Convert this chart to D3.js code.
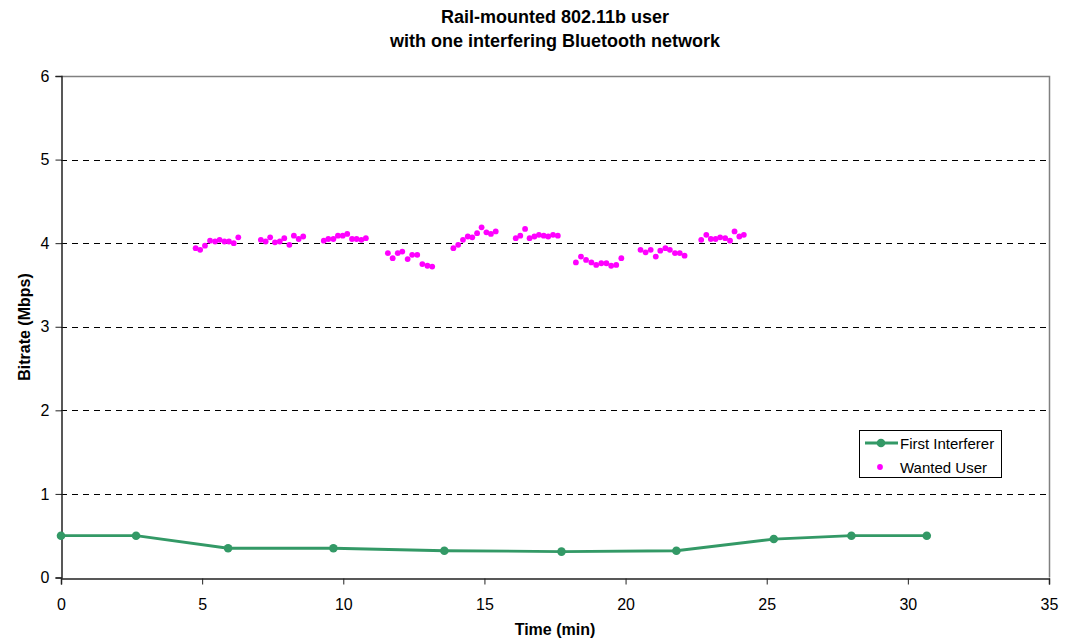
<!DOCTYPE html>
<html lang="en">
	<head>
		<meta charset="utf-8">
		<title>Rail-mounted 802.11b user</title>
		<script src="https://cdn.jsdelivr.net/npm/d3@7"></script>
		<style>
			body { margin: 0; background: #fff; }
			svg { font-family: "Liberation Sans", Arial, sans-serif; }
			.title { font-size: 18px; font-weight: bold; text-anchor: middle; }
			.axis-title { font-size: 16px; font-weight: bold; text-anchor: middle; }
			.legend text { font-size: 15px; }
		</style>
	</head>
	<body>
		<script>
			var w = 1066, h = 639;
			var margin = {top: 76, right: 17, bottom: 61, left: 61};

			var xTicks = [0, 5, 10, 15, 20, 25, 30, 35];
			var yTicks = [0, 1, 2, 3, 4, 5, 6];

			// First Interferer (minutes, Mbps)
			var interfTime = [0, 2.66, 5.92, 9.65, 13.58, 17.73, 21.8, 25.25, 28.0, 30.67];
			var interfRate = [0.5, 0.5, 0.35, 0.35, 0.32, 0.31, 0.32, 0.46, 0.5, 0.5];

			// Wanted User (minutes, Mbps)
			var userTime = [
				4.77, 4.93, 5.10, 5.28, 5.46, 5.62, 5.79, 5.95, 6.12, 6.28,
				7.08, 7.25, 7.41, 7.58, 7.75, 7.91, 8.09, 8.25, 8.42, 8.58,
				9.31, 9.47, 9.65, 9.81, 9.98, 10.14, 10.31, 10.47, 10.64, 10.80,
				11.58, 11.75, 11.93, 12.09, 12.28, 12.44, 12.62, 12.80, 12.98, 13.15,
				13.90, 14.07, 14.24, 14.41, 14.57, 14.74, 14.90, 15.07, 15.23, 15.40,
				16.11, 16.27, 16.44, 16.60, 16.77, 16.93, 17.10, 17.26, 17.43, 17.60,
				18.24, 18.42, 18.60, 18.79, 18.96, 19.14, 19.32, 19.49, 19.67, 19.85,
				20.53, 20.71, 20.89, 21.07, 21.23, 21.41, 21.57, 21.75, 21.92, 22.09,
				22.68, 22.86, 23.02, 23.19, 23.35, 23.53, 23.70, 23.86, 24.03, 24.19
			];
			var userRate = [
				3.94, 3.92, 3.97, 4.03, 4.02, 4.04, 4.02, 4.02, 4.00, 4.07,
				4.04, 4.02, 4.07, 4.01, 4.02, 4.06, 3.98, 4.09, 4.05, 4.08,
				4.03, 4.05, 4.05, 4.09, 4.09, 4.11, 4.05, 4.05, 4.04, 4.06,
				3.88, 3.82, 3.88, 3.90, 3.81, 3.86, 3.86, 3.75, 3.73, 3.72,
				3.94, 3.98, 4.04, 4.08, 4.07, 4.12, 4.19, 4.13, 4.11, 4.14,
				4.06, 4.09, 4.17, 4.06, 4.08, 4.10, 4.09, 4.08, 4.10, 4.09,
				3.77, 3.84, 3.80, 3.77, 3.74, 3.76, 3.76, 3.73, 3.74, 3.82,
				3.92, 3.89, 3.92, 3.84, 3.91, 3.94, 3.92, 3.88, 3.88, 3.85,
				4.04, 4.10, 4.05, 4.05, 4.07, 4.06, 4.03, 4.14, 4.08, 4.10
			];

			var green = "#339966", magenta = "#ff00ff";

			var svg = d3.select("body").append("svg")
				.attr("width", w)
				.attr("height", h);

			var x = d3.scaleLinear().domain([0, 35]).range([margin.left, w - margin.right]);
			var y = d3.scaleLinear().domain([0, 6]).range([h - margin.bottom - 0.5, margin.top]);

			// gridlines
			svg.append("g").selectAll("line")
				.data(yTicks.filter(function(d) { return d > 0 && d < 6; }))
				.enter().append("line")
				.attr("x1", x(0)).attr("x2", x(35))
				.attr("y1", function(d) { return Math.round(y(d)) + 0.5; })
				.attr("y2", function(d) { return Math.round(y(d)) + 0.5; })
				.attr("stroke", "#000")
				.attr("stroke-dasharray", "6,5");

			// plot area border (top and right)
			svg.append("path")
				.attr("d", "M" + x(0) + "," + (y(6) + 0.5) + "H" + (x(35) + 0.5) + "V" + y(0))
				.attr("fill", "none")
				.attr("stroke", "#808080")
				.attr("stroke-width", 1.5);

			// axes
			var xAxis = svg.append("g")
				.attr("transform", "translate(0," + (Math.round(y(0)) + 0.5) + ")")
				.call(d3.axisBottom(x).tickValues(xTicks).tickFormat(d3.format("d"))
					.tickSizeOuter(0).tickSize(6).tickPadding(14));
			var yAxis = svg.append("g")
				.attr("transform", "translate(" + (x(0) + 0.5) + ",0)")
				.call(d3.axisLeft(y).tickValues(yTicks).tickFormat(d3.format("d"))
					.tickSizeOuter(0).tickSize(6).tickPadding(6));
			[xAxis, yAxis].forEach(function(a) {
				a.attr("font-size", 16).attr("font-family", "Liberation Sans, Arial, sans-serif");
				a.select(".domain").attr("stroke", "#222").attr("stroke-width", 1.5);
				a.selectAll(".tick line").attr("stroke", "#222");
			});

			// first interferer line
			var interf = interfTime.map(function(t, i) { return [t, interfRate[i]]; });
			svg.append("path")
				.datum(interf)
				.attr("fill", "none")
				.attr("stroke", green)
				.attr("stroke-width", 2.8)
				.attr("d", d3.line().x(function(d) { return x(d[0]); }).y(function(d) { return y(d[1]); }));
			svg.append("g").selectAll("circle")
				.data(interf)
				.enter().append("circle")
				.attr("cx", function(d) { return x(d[0]); })
				.attr("cy", function(d) { return y(d[1]); })
				.attr("r", 4.3)
				.attr("fill", green);

			// wanted user points
			svg.append("g").selectAll("circle")
				.data(userTime.map(function(t, i) { return [t, userRate[i]]; }))
				.enter().append("circle")
				.attr("cx", function(d) { return x(d[0]); })
				.attr("cy", function(d) { return y(d[1]); })
				.attr("r", 2.9)
				.attr("fill", magenta);

			// titles
			svg.append("text").attr("class", "title").attr("x", 555).attr("y", 23).text("Rail-mounted 802.11b user");
			svg.append("text").attr("class", "title").attr("x", 555).attr("y", 47).text("with one interfering Bluetooth network");
			svg.append("text").attr("class", "axis-title").attr("x", 555).attr("y", 635).text("Time (min)");
			svg.append("text").attr("class", "axis-title")
				.attr("transform", "translate(30,327) rotate(-90)")
				.text("Bitrate (Mbps)");

			// legend
			var lg = svg.append("g").attr("class", "legend");
			lg.append("rect").attr("x", 859.5).attr("y", 430.5).attr("width", 142).attr("height", 47)
				.attr("fill", "#fff").attr("stroke", "#000");
			lg.append("line").attr("x1", 865).attr("x2", 898).attr("y1", 443).attr("y2", 443)
				.attr("stroke", green).attr("stroke-width", 2.8);
			lg.append("circle").attr("cx", 881).attr("cy", 443).attr("r", 4.3).attr("fill", green);
			lg.append("text").attr("x", 900).attr("y", 449).text("First Interferer");
			lg.append("circle").attr("cx", 880).attr("cy", 467).attr("r", 2.9).attr("fill", magenta);
			lg.append("text").attr("x", 900).attr("y", 473).text("Wanted User");
		</script>
	</body>
</html>
